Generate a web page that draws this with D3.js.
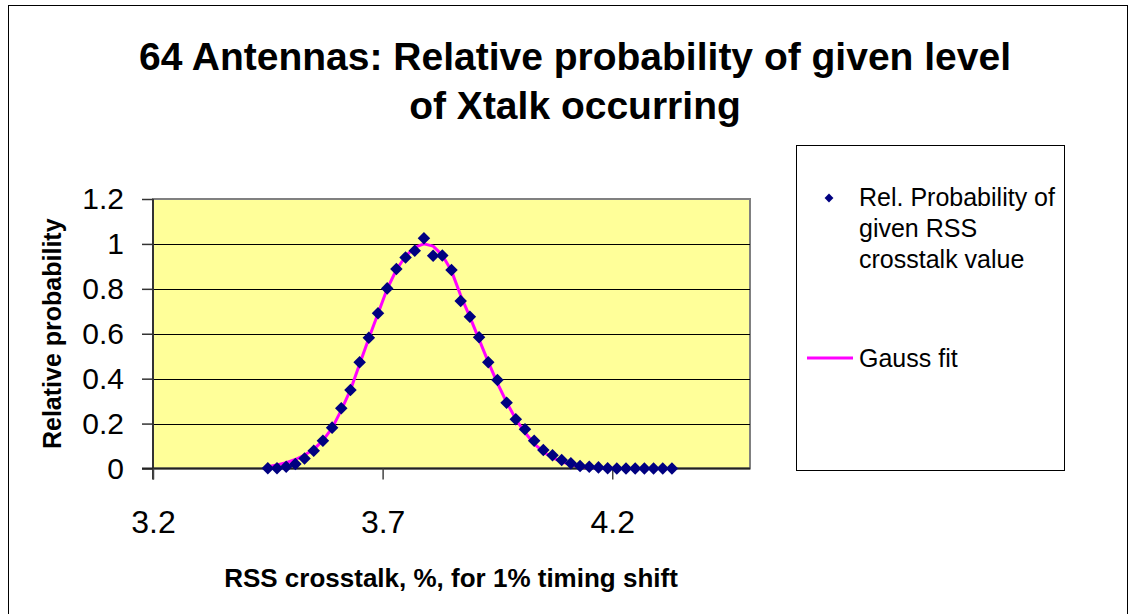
<!DOCTYPE html>
<html>
<head>
<meta charset="utf-8">
<script src="https://cdn.jsdelivr.net/npm/d3@7"></script>
<style>
  html, body { margin: 0; padding: 0; background: #fff; }
  svg { display: block; }
  text { font-family: "Liberation Sans", Arial, sans-serif; fill: #000; }
</style>
</head>
<body>
<svg id="chart" width="1135" height="614"></svg>
<script>
// ---- data ----
const titleLines = ["64 Antennas: Relative probability of given level", "of Xtalk occurring"];
const xTitle = "RSS crosstalk, %, for 1% timing shift";
const yTitle = "Relative probability";
const legendLabels = [["Rel. Probability of", "given RSS", "crosstalk value"], ["Gauss fit"]];

const xValues = [3.45, 3.47, 3.49, 3.51, 3.53, 3.55, 3.57, 3.59, 3.61, 3.63,
                 3.65, 3.67, 3.69, 3.71, 3.73, 3.75, 3.77, 3.79, 3.81, 3.83,
                 3.85, 3.87, 3.89, 3.91, 3.93, 3.95, 3.97, 3.99, 4.01, 4.03,
                 4.05, 4.07, 4.09, 4.11, 4.13, 4.15, 4.17, 4.19, 4.21, 4.23,
                 4.25, 4.27, 4.29, 4.31, 4.33];
const probValues = [0.001, 0.001, 0.008, 0.020, 0.045, 0.079, 0.124, 0.182, 0.268, 0.350,
                    0.473, 0.582, 0.691, 0.802, 0.888, 0.940, 0.970, 1.025, 0.947, 0.948,
                    0.884, 0.746, 0.676, 0.584, 0.473, 0.394, 0.293, 0.219, 0.175, 0.124,
                    0.082, 0.059, 0.038, 0.023, 0.011, 0.008, 0.005, 0.001, 0.000, 0.000,
                    0.000, 0.000, 0.000, 0.000, 0.000];
const fitValues = [0.008, 0.016, 0.026, 0.040, 0.060, 0.085, 0.125, 0.180, 0.260, 0.350,
                   0.465, 0.580, 0.690, 0.800, 0.885, 0.945, 0.985, 1.000, 0.990, 0.950,
                   0.880, 0.770, 0.675, 0.575, 0.475, 0.380, 0.295, 0.220, 0.160, 0.110,
                   0.075, 0.048, 0.030, 0.017, 0.009, 0.005, 0.002, 0.001, 0.000, 0.000,
                   0.000, 0.000, 0.000, 0.000, 0.000];
const xTicks = [3.2, 3.7, 4.2];
const yTicks = [0, 0.2, 0.4, 0.6, 0.8, 1, 1.2];

// ---- layout ----
const svg = d3.select("#chart");
const plot = { left: 153, right: 750, top: 199, bottom: 468.5 };

svg.append("rect").attr("x", 0).attr("y", 0).attr("width", 1135).attr("height", 614).attr("fill", "#fff");
svg.append("rect").attr("x", 8.5).attr("y", 5.5).attr("width", 1119).attr("height", 700)
  .attr("fill", "none").attr("stroke", "#000").attr("stroke-width", 1);

const x = d3.scaleLinear().domain([3.2, 4.5]).range([plot.left, plot.right]);
const y = d3.scaleLinear().domain([0, 1.2]).range([plot.bottom, plot.top]);

// plot area
svg.append("rect").attr("x", plot.left).attr("y", plot.top)
  .attr("width", plot.right - plot.left).attr("height", plot.bottom - plot.top)
  .attr("fill", "#FFFF99").attr("stroke", "#808080").attr("stroke-width", 2);

// gridlines
svg.append("g").selectAll("line").data(yTicks.filter(d => d > 0 && d < 1.2)).join("line")
  .attr("x1", plot.left).attr("x2", plot.right)
  .attr("y1", d => Math.round(y(d)) + 0.5).attr("y2", d => Math.round(y(d)) + 0.5)
  .attr("stroke", "#000").attr("stroke-width", 1.2);

// axes
const yAxis = d3.axisLeft(y).tickValues(yTicks).tickSize(11).tickPadding(18)
  .tickFormat(d => d3.format("")(+d.toFixed(1)));
const gy = svg.append("g").attr("transform", `translate(${plot.left},0)`).call(yAxis);
gy.select(".domain").attr("stroke", "#333").attr("stroke-width", 2).attr("d", `M-0,${plot.top}V${plot.bottom + 11}`);
gy.selectAll(".tick line").attr("stroke", "#333").attr("stroke-width", 1.5);
gy.selectAll(".tick text").attr("font-size", 30).attr("font-family", "Liberation Sans, Arial, sans-serif").attr("fill", "#000");

const xAxis = d3.axisBottom(x).tickValues(xTicks).tickSize(11).tickPadding(31)
  .tickFormat(d3.format(".1f"));
const gx = svg.append("g").attr("transform", `translate(0,${plot.bottom})`).call(xAxis);
gx.select(".domain").attr("stroke", "#222").attr("stroke-width", 2).attr("d", `M${plot.left - 11},0H${plot.right}`);
gx.selectAll(".tick line").attr("stroke", "#444").attr("stroke-width", 1.5);
gx.selectAll(".tick text").attr("font-size", 32).attr("font-family", "Liberation Sans, Arial, sans-serif").attr("fill", "#000");

// gauss fit line
const line = d3.line().x((d, i) => x(xValues[i])).y(d => y(d));
svg.append("path").datum(fitValues).attr("d", line)
  .attr("fill", "none").attr("stroke", "#FF00FF").attr("stroke-width", 3).attr("stroke-linejoin", "round");

// points
const diamond = d3.symbol().type(d3.symbolDiamond2).size(100);
svg.append("g").selectAll("path").data(probValues).join("path")
  .attr("d", diamond)
  .attr("transform", (d, i) => `translate(${x(xValues[i])},${y(d)})`)
  .attr("fill", "#000080");

// titles
const title = svg.append("text").attr("text-anchor", "middle").attr("font-weight", "bold").attr("font-size", 39);
titleLines.forEach((t, i) => title.append("tspan").attr("x", 575).attr("y", 70 + i * 49).text(t));

svg.append("text").attr("x", 451).attr("y", 587).attr("text-anchor", "middle")
  .attr("font-weight", "bold").attr("font-size", 26).text(xTitle);
svg.append("text").attr("transform", `translate(52,${(plot.top + plot.bottom) / 2}) rotate(-90)`)
  .attr("text-anchor", "middle").attr("dy", "0.35em")
  .attr("font-weight", "bold").attr("font-size", 25).text(yTitle);

// legend
const lg = svg.append("g");
lg.append("rect").attr("x", 796.5).attr("y", 145.5).attr("width", 268).attr("height", 325)
  .attr("fill", "#fff").attr("stroke", "#000").attr("stroke-width", 1);
lg.append("path").attr("d", d3.symbol().type(d3.symbolDiamond2).size(50))
  .attr("transform", "translate(829,198)").attr("fill", "#000080");
const lt = lg.append("text").attr("font-size", 25);
legendLabels[0].forEach((t, i) => lt.append("tspan").attr("x", 859).attr("y", 206 + i * 31).text(t));
lg.append("line").attr("x1", 807).attr("x2", 853).attr("y1", 358).attr("y2", 358)
  .attr("stroke", "#FF00FF").attr("stroke-width", 3);
lg.append("text").attr("x", 859).attr("y", 367).attr("font-size", 25).text(legendLabels[1][0]);
</script>
</body>
</html>
